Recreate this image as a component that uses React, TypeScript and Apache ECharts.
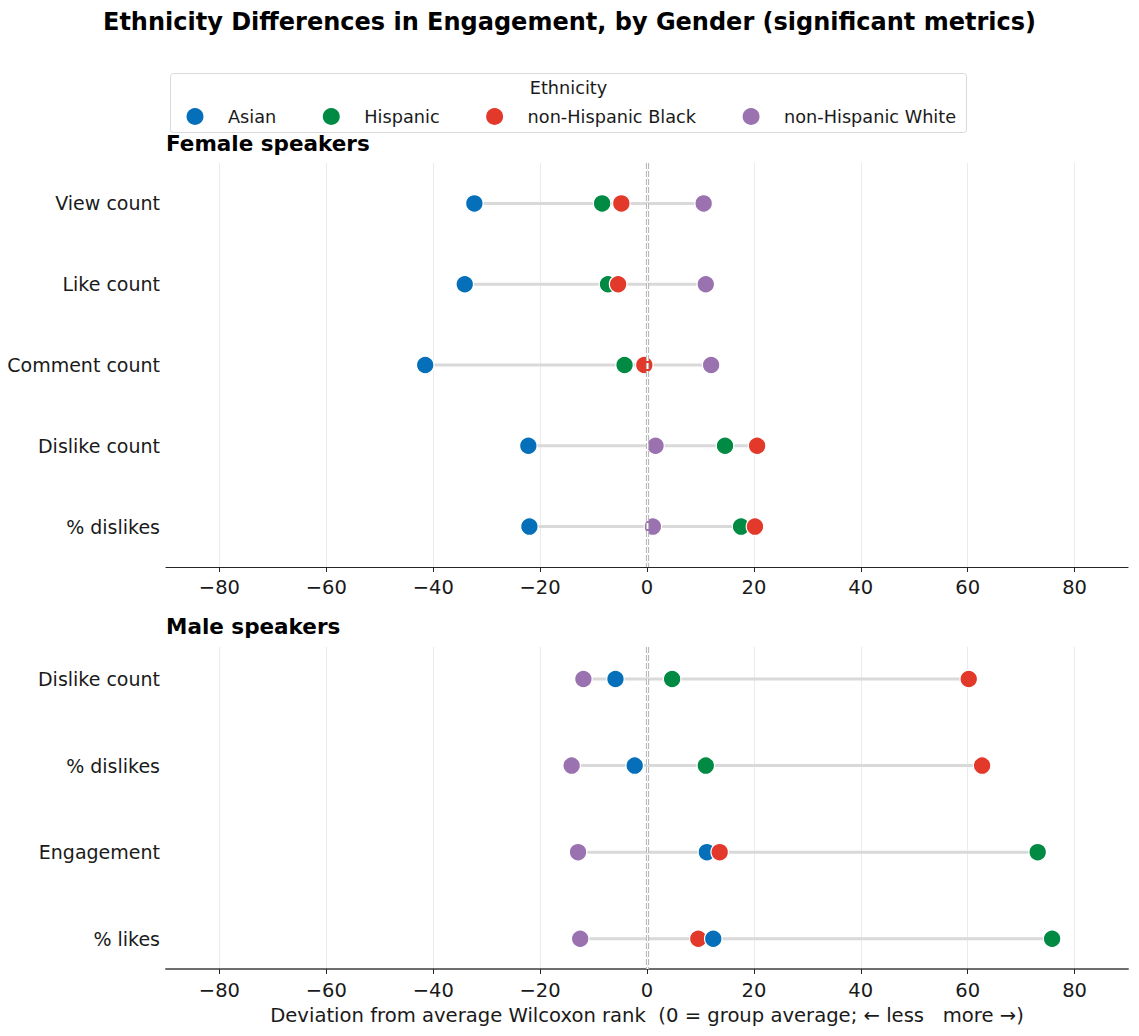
import React, { useEffect, useRef } from "react";
import * as echarts from "echarts";

// ---------- data ----------
const ethnicities = ["Asian", "Hispanic", "non-Hispanic Black", "non-Hispanic White"];
const ethnicityColors = ["#0570B9", "#008A44", "#E3392A", "#9B72B0"];

const femaleMetrics = ["View count", "Like count", "Comment count", "Dislike count", "% dislikes"];
const femaleAsian = [-32.3, -34.1, -41.5, -22.2, -22.0];
const femaleHispanic = [-8.4, -7.3, -4.2, 14.6, 17.6];
const femaleBlack = [-4.8, -5.4, -0.5, 20.6, 20.2];
const femaleWhite = [10.6, 11.0, 12.0, 1.6, 1.1];

const maleMetrics = ["Dislike count", "% dislikes", "Engagement", "% likes"];
const maleAsian = [-5.9, -2.3, 11.2, 12.4];
const maleHispanic = [4.7, 11.0, 73.1, 75.8];
const maleBlack = [60.2, 62.7, 13.6, 9.6];
const maleWhite = [-11.9, -14.1, -12.9, -12.5];

const xTicks = [-80, -60, -40, -20, 0, 20, 40, 60, 80];

const FONT = "DejaVu Sans";
const TEXT = "#1a1a1a";

function fmtTick(v: number) {
  return v < 0 ? "\u2212" + Math.abs(v) : String(v);
}

function buildPanel(groups: number[][], metrics: string[], axisIdx: number) {
  const rangeData = metrics.map((_, i) => {
    const vals = groups.map((g) => g[i]);
    return [Math.min(...vals), Math.max(...vals), i];
  });
  const pts: any[] = [];
  metrics.forEach((_, i) => {
    groups.forEach((g, e) => {
      pts.push({ value: [g[i], i], itemStyle: { color: ethnicityColors[e] }, name: ethnicities[e] });
    });
  });
  pts.sort((a, b) => a.value[0] - b.value[0]);
  return [
    {
      type: "custom",
      xAxisIndex: axisIdx,
      yAxisIndex: axisIdx,
      z: 2,
      encode: { x: [0, 1], y: 2 },
      data: rangeData,
      renderItem: (params: any, api: any) => {
        const a = api.coord([api.value(0), api.value(2)]);
        const b = api.coord([api.value(1), api.value(2)]);
        return {
          type: "line",
          shape: { x1: a[0], y1: a[1], x2: b[0], y2: b[1] },
          style: { stroke: "#d9d9d9", lineWidth: 3 },
        };
      },
      markLine: {
        silent: true,
        symbol: "none",
        label: { show: false },
        data: [
          { xAxis: 0, lineStyle: { color: "#bababa", width: 3.2, type: [6, 2] } },
          { xAxis: 0, lineStyle: { color: "#ffffff", width: 1, type: [6, 2] } },
        ],
      },
    },
    {
      type: "scatter",
      xAxisIndex: axisIdx,
      yAxisIndex: axisIdx,
      z: 3,
      symbol: "circle",
      symbolSize: 17.5,
      itemStyle: { borderColor: "#ffffff", borderWidth: 1.2, opacity: 1 },
      data: pts,
    },
  ];
}

function xAxisCfg(gridIndex: number, bottom: boolean) {
  return {
    type: "value",
    gridIndex,
    min: -90,
    max: 90,
    axisLine: {
      show: true,
      onZero: false,
      lineStyle: bottom ? { color: "#6e6e6e", width: 2 } : { color: "#262626", width: 1.2 },
    },
    axisTick: {
      show: true,
      length: 5,
      customValues: xTicks,
      lineStyle: { color: "#262626", width: 1 },
    },
    axisLabel: {
      customValues: xTicks,
      formatter: (v: number) => fmtTick(v),
      fontFamily: FONT,
      fontSize: 19.5,
      color: TEXT,
      margin: bottom ? 11 : 10,
    },
    splitLine: { show: true, lineStyle: { color: "#ebebeb", width: 1 } },
    ...(bottom
      ? {
          name: "Deviation from average Wilcoxon rank  (0 = group average; \u2190 less   more \u2192)",
          nameLocation: "middle",
          nameGap: 36,
          nameTextStyle: { fontFamily: FONT, fontSize: 19.6, color: TEXT },
        }
      : {}),
  };
}

function yAxisCfg(gridIndex: number, metrics: string[], min: number, max: number) {
  return {
    type: "value",
    gridIndex,
    inverse: true,
    min,
    max,
    axisLine: { show: false },
    axisTick: { show: false },
    splitLine: { show: false },
    axisLabel: {
      customValues: metrics.map((_, i) => i),
      formatter: (v: number) => metrics[Math.round(v)] ?? "",
      fontFamily: FONT,
      fontSize: 19,
      color: TEXT,
      margin: 6,
    },
  };
}

export default function App() {
  const ref = useRef<HTMLDivElement>(null);
  useEffect(() => {
    document.body.style.margin = "0";
    document.body.style.overflow = "hidden";
    if (!ref.current) return;
    const chart = echarts.init(ref.current, undefined, { renderer: "svg" });

    const femaleSeries = buildPanel([femaleAsian, femaleHispanic, femaleBlack, femaleWhite], femaleMetrics, 0);
    const maleSeries = buildPanel([maleAsian, maleHispanic, maleBlack, maleWhite], maleMetrics, 1);
    const legendSeries = ethnicities.map((name, e) => ({
      type: "scatter",
      name,
      xAxisIndex: 0,
      yAxisIndex: 0,
      data: [],
      itemStyle: { color: ethnicityColors[e], opacity: 1 },
    }));

    chart.setOption({
      animation: false,
      backgroundColor: "#ffffff",
      title: {
        text: "Ethnicity Differences in Engagement, by Gender (significant metrics)",
        left: "center",
        top: 10,
        padding: 0,
        textStyle: { fontFamily: FONT, fontSize: 24, fontWeight: "bold", color: "#000" },
      },
      legend: {
        data: ethnicities,
        left: 186.5,
        top: 107.5,
        padding: 0,
        itemWidth: 56,
        itemHeight: 17,
        itemGap: 46.5,
        icon: "circle",
        selectedMode: false,
        z: 10,
        itemStyle: { opacity: 1 },
        textStyle: { fontFamily: FONT, fontSize: 17.7, color: TEXT },
      },
      graphic: [
        {
          type: "rect",
          z: 0,
          silent: true,
          shape: { x: 170.5, y: 73.5, width: 796, height: 59, r: 3 },
          style: { fill: "#ffffff", stroke: "#d9d9d9", lineWidth: 1 },
        },
        {
          type: "text",
          z: 1,
          x: 568.5,
          y: 88,
          style: {
            text: "Ethnicity",
            fontFamily: FONT,
            fontSize: 17.7,
            fill: TEXT,
            textAlign: "center",
            textVerticalAlign: "middle",
          },
        },
        {
          type: "text",
          x: 166,
          y: 143,
          style: {
            text: "Female speakers",
            fontFamily: FONT,
            fontSize: 21.5,
            fontWeight: "bold",
            fill: "#000",
            textAlign: "left",
            textVerticalAlign: "middle",
          },
        },
        {
          type: "text",
          x: 166,
          y: 626,
          style: {
            text: "Male speakers",
            fontFamily: FONT,
            fontSize: 21.5,
            fontWeight: "bold",
            fill: "#000",
            textAlign: "left",
            textVerticalAlign: "middle",
          },
        },
      ],
      grid: [
        { left: 166, right: 11, top: 163, height: 404 },
        { left: 166, right: 11, top: 647, height: 322 },
      ],
      xAxis: [xAxisCfg(0, false), xAxisCfg(1, true)],
      yAxis: [yAxisCfg(0, femaleMetrics, -0.5, 4.5), yAxisCfg(1, maleMetrics, -0.37, 3.35)],
      series: [...femaleSeries, ...maleSeries, ...legendSeries],
    });

    return () => chart.dispose();
  }, []);
  return <div ref={ref} style={{ width: 1139, height: 1036 }} />;
}
